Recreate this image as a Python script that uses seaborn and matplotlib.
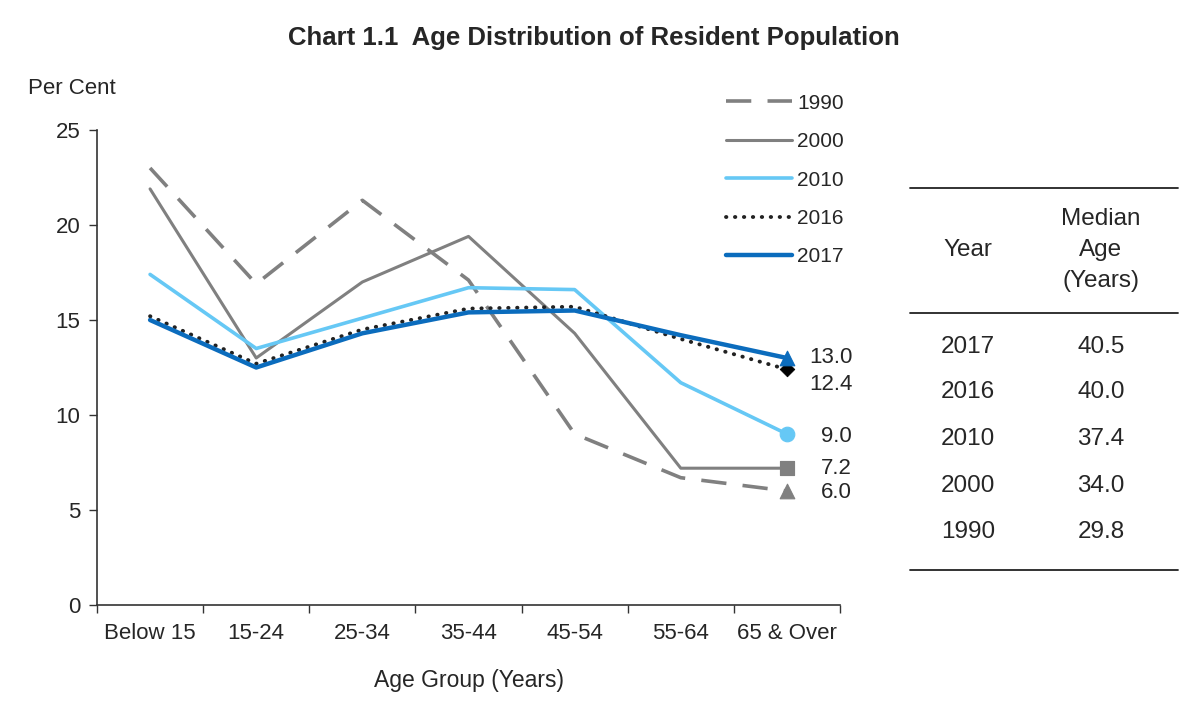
import numpy as np
import pandas as pd
import matplotlib
matplotlib.use("Agg")
import matplotlib.pyplot as plt
from matplotlib.lines import Line2D
import seaborn as sns

# Chart data
age_groups = ["Below 15", "15-24", "25-34", "35-44", "45-54", "55-64", "65 & Over"]
pct_1990 = [23.0, 16.9, 21.3, 17.1, 9.0, 6.7, 6.0]
pct_2000 = [21.9, 13.0, 17.0, 19.4, 14.3, 7.2, 7.2]
pct_2010 = [17.4, 13.5, 15.1, 16.7, 16.6, 11.7, 9.0]
pct_2016 = [15.2, 12.7, 14.5, 15.6, 15.7, 14.0, 12.4]
pct_2017 = [15.0, 12.5, 14.3, 15.4, 15.5, 14.2, 13.0]
end_labels = ["13.0", "12.4", "9.0", "7.2", "6.0"]

table_years = ["2017", "2016", "2010", "2000", "1990"]
median_age = ["40.5", "40.0", "37.4", "34.0", "29.8"]

sns.set_theme(style="white")
plt.rcParams["font.family"] = ["Liberation Sans", "DejaVu Sans"]
narrow = ["Liberation Sans Narrow", "Liberation Sans", "DejaVu Sans"]

series = [
    ("1990", pct_1990, dict(color="#808080", lw=2.6, ls=(0, (7, 4.5))), "^", "#808080"),
    ("2000", pct_2000, dict(color="#808080", lw=2.2, ls="-"), "s", "#808080"),
    ("2010", pct_2010, dict(color="#66C8F5", lw=2.6, ls="-"), "o", "#66C8F5"),
    ("2016", pct_2016, dict(color="#222222", lw=2.8, ls=(0, (0.1, 2.2)), dash_capstyle="round"), "D", "#000000"),
    ("2017", pct_2017, dict(color="#0B6CBD", lw=3.2, ls="-"), "^", "#0B6CBD"),
]

fig = plt.figure(figsize=(12, 7.09), dpi=100)
ax = fig.add_axes([97 / 1200, 1 - 605 / 709, (840 - 97) / 1200, (605 - 130) / 709])

xs = np.arange(len(age_groups))
handles = []
for name, vals, style, mk, mcol in series:
    df = pd.DataFrame({"x": xs, "y": vals})
    sns.lineplot(data=df, x="x", y="y", ax=ax, **style)
    sns.scatterplot(x=[xs[-1]], y=[vals[-1]], ax=ax, marker=mk, color=mcol,
                    s=110 if mk != "D" else 55, edgecolor=mcol, zorder=5)
    handles.append(Line2D([], [], **style, label=name))

# value labels at end of lines
label_y = [13.05, 11.6, 8.85, 7.2, 5.9]
for txt, yv in zip(end_labels, label_y):
    ax.text(6.615, yv, txt, ha="right", va="center", fontsize=16, clip_on=False)

ax.set_xlim(-0.5, 6.5)
ax.set_ylim(0, 25)
ax.set_yticks([0, 5, 10, 15, 20, 25])
ax.tick_params(axis="y", labelsize=16, length=6, width=1, color="#333333", direction="out", left=True, pad=6)
ax.set_xticks(np.arange(-0.5, 7, 1))
ax.set_xticklabels([])
ax.set_xticks(xs, minor=True)
ax.set_xticklabels(age_groups, minor=True, fontsize=16, family=narrow)
ax.tick_params(axis="x", which="major", length=6, width=1, color="#333333", direction="out", bottom=True)
ax.tick_params(axis="x", which="minor", length=0, pad=13)
ax.set_xlabel("Age Group (Years)", fontsize=16.5, family=narrow, labelpad=18)
ax.set_ylabel("")
for s in ["top", "right"]:
    ax.spines[s].set_visible(False)
for s in ["left", "bottom"]:
    ax.spines[s].set_color("#333333")
    ax.spines[s].set_linewidth(1.2)

fig.text(28 / 1200, 1 - 89 / 709, "Per Cent", fontsize=16, va="center", ha="left")
fig.text(594 / 1200, 1 - 38 / 709, "Chart 1.1  Age Distribution of Resident Population",
         fontsize=18.5, fontweight="bold", ha="center", va="center")

fig.legend(handles=handles, loc="upper left", bbox_to_anchor=(707 / 1200, 1 - 75 / 709),
           frameon=False, fontsize=15, handlelength=3.2, labelspacing=0.93, handletextpad=0.22)

# median age table
x0, x1 = 910 / 1200, 1178 / 1200
for yy in [188, 313, 570]:
    fig.add_artist(Line2D([x0, x1], [1 - yy / 709] * 2, color="#222222", lw=1.3))
fig.text(968 / 1200, 1 - 250 / 709, "Year", fontsize=17.5, ha="center", va="center")
for txt, yy in zip(["Median", "Age", "(Years)"], [219, 250, 281]):
    fig.text(1101 / 1200, 1 - yy / 709, txt, fontsize=17.5, ha="center", va="center")
for yr, med, yy in zip(table_years, median_age, [347, 392, 439, 486, 532]):
    fig.text(968 / 1200, 1 - yy / 709, yr, fontsize=17.5, ha="center", va="center")
    fig.text(1101 / 1200, 1 - yy / 709, med, fontsize=17.5, ha="center", va="center")

fig.savefig("out.png", dpi=100, facecolor="white")
